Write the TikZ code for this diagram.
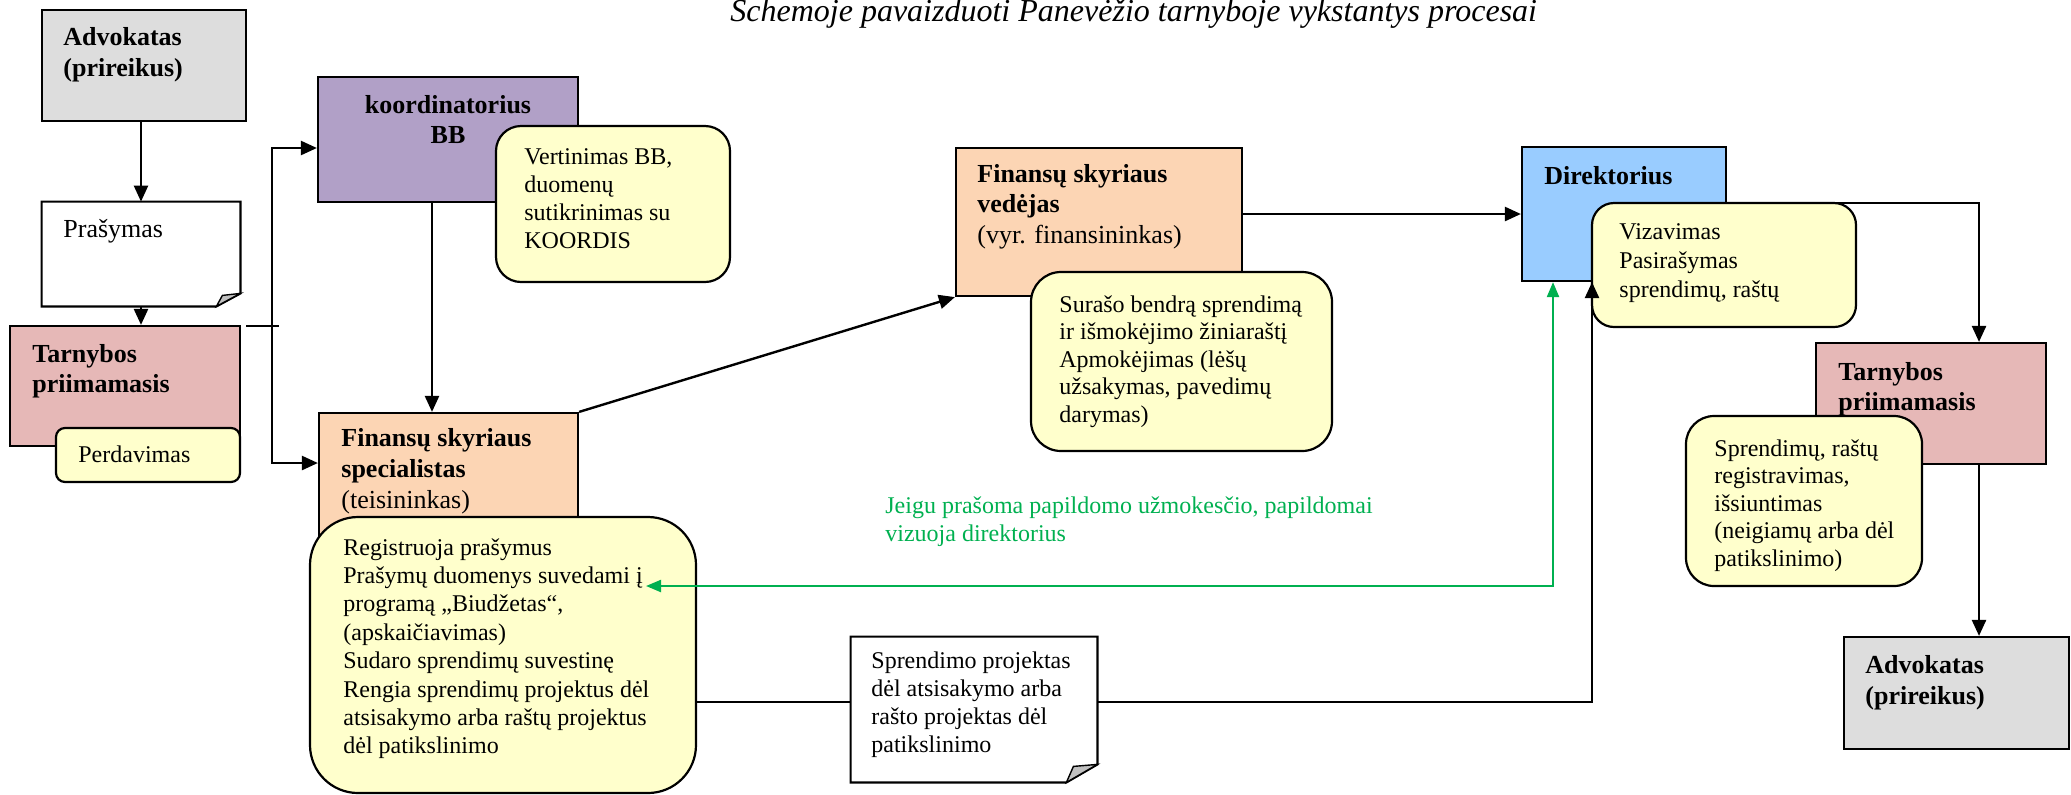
\documentclass[tikz,border=0pt]{standalone}
\usepackage{fontspec}
\setmainfont{Liberation Serif}
\usetikzlibrary{arrows.meta,fit}
\definecolor{cgray}{HTML}{DDDDDD}
\definecolor{cpink}{HTML}{E6B8B7}
\definecolor{cpurple}{HTML}{B1A0C7}
\definecolor{corange}{HTML}{FCD5B4}
\definecolor{cblue}{HTML}{99CCFF}
\definecolor{cyellow}{HTML}{FFFFCC}
\definecolor{cgreen}{HTML}{00B050}
\definecolor{cfold}{HTML}{C0C0C0}
\newcommand\mlines[2]{\vtop{\baselineskip=#1\relax\lineskiplimit=-100pt\halign{##\hfil\cr#2\crcr}}}
\newcommand\mlinesc[2]{\vtop{\baselineskip=#1\relax\lineskiplimit=-100pt\halign{\hfil##\hfil\cr#2\crcr}}}
\tikzset{
  box/.style={draw=black, line width=1.1pt, inner sep=0pt},
  rbox/.style={box, fill=cyellow},
  tx/.style={inner sep=0pt, anchor=base west, font=\fontsize{12pt}{14pt}\selectfont},
  hd/.style={inner sep=0pt, anchor=base west, font=\fontsize{13pt}{15pt}\selectfont},
  arr/.style={draw=black, line width=1.2pt, -{Triangle[length=8pt,width=7pt]}},
  darr/.style={draw=black, line width=1.2pt, {Triangle[length=8pt,width=7pt]}-{Triangle[length=8pt,width=7pt]}},
  ln/.style={draw=black, line width=1.2pt},
  garr/.style={draw=cgreen, line width=1.1pt, {Triangle[length=7.5pt,width=6pt]}-{Triangle[length=7.5pt,width=6pt]}},
  foldtri/.style={draw=black, line width=0.7pt, fill=cfold},
}
\begin{document}
\begin{tikzpicture}[x=0.5pt,y=-0.5pt]
\useasboundingbox (0,0) rectangle (2071,794);

% title
\node[inner sep=0pt, anchor=base west, font=\fontsize{16pt}{19pt}\selectfont\itshape] (title) at (730,21) {Schemoje pavaizduoti Panevėžio tarnyboje vykstantys procesai};

% left column
\node[box, fill=cgray, fit={(42,10) (246,121)}] (adv1) {};
\node[inner sep=0pt, fit={(42,202) (240,306)}] (pras) {};
\draw[line width=1.1pt, fill=white] (pras.north west) -- (pras.north east) -- ([yshift=6.5pt]pras.south east) -- ([xshift=-12pt]pras.south east) -- (pras.south west) -- cycle;
\draw[foldtri] ([yshift=6.5pt]pras.south east) -- ([xshift=-12pt]pras.south east) -- ([xshift=-9pt,yshift=5.5pt]pras.south east) -- cycle;
\node[box, fill=cpink, fit={(10,326) (240,446)}] (tarn1) {};
\node[rbox, rounded corners=4.5pt, fit={(56,428) (240,482)}] (perd) {};

% koordinatorius
\node[box, fill=cpurple, fit={(318,77) (578,202)}] (koord) {};
\node[rbox, rounded corners=12.5pt, fit={(496,126) (730,282)}] (vert) {};

% specialistas
\node[box, fill=corange, fit={(319,413) (578,560)}] (spec) {};
\node[rbox, rounded corners=24pt, fit={(310,517) (696,793)}] (big) {};

% vedejas
\node[box, fill=corange, fit={(956,148) (1242,296)}] (ved) {};
\node[rbox, rounded corners=15pt, fit={(1031,272) (1332,451)}] (sur) {};

% direktorius
\node[box, fill=cblue, fit={(1522,147) (1726,281)}] (dir) {};
\node[box, fill=cpink, fit={(1816,343) (2046,464)}] (tarn2) {};
\coordinate (c7) at (1979,203);
\draw[arr] (dir.east |- c7) -- (c7) -- (c7 |- tarn2.north);
\node[rbox, rounded corners=11pt, fit={(1592,203) (1856,327)}] (viz) {};
\node[rbox, rounded corners=14pt, fit={(1686,416) (1922,586)}] (spr) {};
\node[box, fill=cgray, fit={(1844,637) (2069,749)}] (adv2) {};

% document at bottom
\node[inner sep=0pt, fit={(851,637) (1097,782)}] (doc) {};
\draw[line width=1.1pt, fill=white] (doc.north west) -- (doc.north east) -- ([yshift=9pt]doc.south east) -- ([xshift=-15.5pt]doc.south east) -- (doc.south west) -- cycle;
\draw[foldtri] ([yshift=9pt]doc.south east) -- ([xshift=-15.5pt]doc.south east) -- ([xshift=-12pt,yshift=8pt]doc.south east) -- cycle;

% connectors
\draw[arr] (pras.north |- adv1.south) -- (pras.north);
\draw[arr] (pras.south) -- (pras.south |- tarn1.north);
\coordinate (bt) at (272,148);
\coordinate (bb) at (272,463);
\draw[darr] (koord.west |- bt) -- (bt) -- (bb) -- (spec.west |- bb);
\coordinate (s1) at (246,326);
\coordinate (s2) at (279,326);
\draw[ln] (s1) -- (s2);
\draw[arr] ([xshift=-8pt]koord.south) -- ([xshift=-8pt]koord.south |- spec.north);
\draw[arr] (spec.north east) -- (ved.south west);
\draw[arr] (ved.east |- dir.west) -- (dir.west);
\draw[arr] (c7 |- tarn2.south) -- (c7 |- adv2.north);
\coordinate (c9) at (1592,702);
\draw[ln] (big.east |- c9) -- (doc.west |- c9);
\draw[arr] (doc.east |- c9) -- (c9) -- (c9 |- dir.south);
\coordinate (gt) at (646,586);
\coordinate (gc) at (1553,586);
\draw[garr] (gt) -- (gc) -- (gc |- dir.south);

% texts
\node[hd] (tAdv1) at (63,45) {\mlines{15.5pt}{\bfseries Advokatas\cr\bfseries (prireikus)}};
\node[hd] (tPras) at (63,237) {Prašymas};
\node[hd] (tTarn1) at (32,362) {\mlines{15pt}{\bfseries Tarnybos\cr\bfseries priimamasis}};
\node[tx] (tPerd) at (78,462) {Perdavimas};
\node[hd, anchor=base] (tKoord) at (448,113) {\mlinesc{15pt}{\bfseries koordinatorius\cr\bfseries BB}};
\node[tx] (tVert) at (524,164) {\mlines{14pt}{Vertinimas BB,\cr duomenų\cr sutikrinimas su\cr KOORDIS}};
\node[hd] (tSpec) at (341,446) {\mlines{15.7pt}{\bfseries Finansų skyriaus\cr\bfseries specialistas\cr(teisininkas)}};
\node[tx] (tBig) at (343,555) {\mlines{14.2pt}{Registruoja prašymus\cr Prašymų duomenys suvedami į\cr programą „Biudžetas“,\cr (apskaičiavimas)\cr Sudaro sprendimų suvestinę\cr Rengia sprendimų projektus dėl\cr atsisakymo arba raštų projektus\cr dėl patikslinimo}};
\node[hd] (tVed) at (977,182) {\mlines{15.25pt}{\bfseries Finansų skyriaus\cr\bfseries vedėjas\cr(vyr. finansininkas)}};
\node[tx] (tSur) at (1059,312) {\mlines{13.75pt}{Surašo bendrą sprendimą\cr ir išmokėjimo žiniaraštį\cr Apmokėjimas (lėšų\cr užsakymas, pavedimų\cr darymas)}};
\node[tx, text=cgreen] (tGreen) at (885,513) {\mlines{14pt}{Jeigu prašoma papildomo užmokesčio, papildomai\cr vizuoja direktorius}};
\node[tx] (tDoc) at (871,668) {\mlines{14pt}{Sprendimo projektas\cr dėl atsisakymo arba\cr rašto projektas dėl\cr patikslinimo}};
\node[hd] (tDir) at (1544,184) {\bfseries Direktorius};
\node[tx] (tViz) at (1619,239) {\mlines{14.5pt}{Vizavimas\cr Pasirašymas\cr sprendimų, raštų}};
\node[hd] (tTarn2) at (1838,380) {\mlines{15pt}{\bfseries Tarnybos\cr\bfseries priimamasis}};
\node[tx] (tSpr) at (1714,456) {\mlines{13.75pt}{Sprendimų, raštų\cr registravimas,\cr išsiuntimas\cr (neigiamų arba dėl\cr patikslinimo)}};
\node[hd] (tAdv2) at (1865,673) {\mlines{15.5pt}{\bfseries Advokatas\cr\bfseries (prireikus)}};
\end{tikzpicture}
\end{document}
